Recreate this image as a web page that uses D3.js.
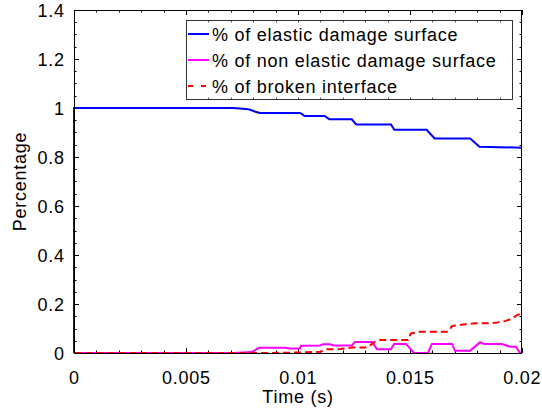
<!DOCTYPE html>
<html><head><meta charset="utf-8">
<script src="https://cdn.jsdelivr.net/npm/d3@7"></script>
<style>
body{margin:0;background:#fff;}
text{font-family:"Liberation Sans",Arial,Helvetica,sans-serif;}
</style></head>
<body>
<svg id="chart" width="542" height="411"></svg>
<script>
// ---- data ----
const xTicks = [0, 0.005, 0.01, 0.015, 0.02];
const xTickLabels = ["0", "0.005", "0.01", "0.015", "0.02"];
const yTicks = [0, 0.2, 0.4, 0.6, 0.8, 1, 1.2, 1.4];
const yTickLabels = ["0", "0.2", "0.4", "0.6", "0.8", "1", "1.2", "1.4"];
const seriesNames = ["% of elastic damage surface", "% of non elastic damage surface", "% of broken interface"];

const elasticT = [0, 0, 0.0071, 0.0078, 0.0081, 0.0083, 0.0101, 0.0103, 0.0112, 0.0114, 0.0124, 0.0126, 0.01415, 0.0143, 0.01575, 0.0158, 0.0161, 0.01768, 0.0178, 0.0181, 0.02];
const elasticV = [0, 1, 1, 0.995, 0.985, 0.98, 0.98, 0.967, 0.967, 0.954, 0.954, 0.933, 0.933, 0.911, 0.911, 0.905, 0.876, 0.876, 0.866, 0.842, 0.838];

const nonElasticT = [0, 0.0071, 0.00793, 0.00827, 0.00942, 0.00964, 0.01009, 0.01013, 0.01098, 0.01112, 0.01143, 0.0116, 0.01241, 0.01254, 0.0133, 0.01353, 0.01415, 0.01429, 0.01482, 0.01518, 0.0158, 0.01598, 0.01688, 0.01701, 0.01768, 0.0179, 0.01813, 0.0183, 0.0191, 0.01946, 0.01973, 0.0199, 0.02];
const nonElasticV = [0, 0, 0.004, 0.021, 0.021, 0.018, 0.018, 0.03, 0.031, 0.036, 0.036, 0.031, 0.031, 0.045, 0.045, 0.015, 0.015, 0.037, 0.037, 0, 0, 0.037, 0.037, 0.009, 0.009, 0.026, 0.044, 0.037, 0.037, 0.026, 0.026, 0.002, 0];

const brokenT = [0, 0.00875, 0.0101, 0.011, 0.0113, 0.01188, 0.01241, 0.01308, 0.01344, 0.01366, 0.01491, 0.01504, 0.01545, 0.0167, 0.01688, 0.01746, 0.0179, 0.01857, 0.01893, 0.01924, 0.01955, 0.01978, 0.02];
const brokenV = [0, 0, 0.002, 0.005, 0.015, 0.016, 0.022, 0.022, 0.046, 0.053, 0.053, 0.08, 0.087, 0.087, 0.11, 0.117, 0.121, 0.121, 0.125, 0.13, 0.14, 0.155, 0.162];

// ---- layout ----
const svg = d3.select("#chart");
const L = 74, R = 522, T = 10, B = 353;
const x = d3.scaleLinear().domain([0, 0.02]).range([L, R]);
const y = d3.scaleLinear().domain([0, 1.4]).range([B, T]);
const fontSize = 18, ls = 0.75;

// minor ticks
const xMinorAll = d3.range(0, 21).map(i => i * 0.001);
const xMinor = xMinorAll.filter(v => !xTicks.some(t => Math.abs(t - v) < 1e-9));
const yMinor = d3.range(0, 29).map(i => i * 0.05).filter(v => !yTicks.some(t => Math.abs(t - v) < 1e-9));

const g = svg.append("g");
g.append("rect").attr("x", L).attr("y", T).attr("width", R - L).attr("height", B - T)
  .attr("fill", "#fff").attr("stroke", "none");

const tickG = g.append("g").attr("stroke", "#000").attr("stroke-width", 1);
const maj = 5, mnr = 2.5;
xTicks.forEach(v => {
  const px = Math.round(x(v)) + 0.5;
  tickG.append("line").attr("x1", px).attr("x2", px).attr("y1", B).attr("y2", B - maj);
  tickG.append("line").attr("x1", px).attr("x2", px).attr("y1", T).attr("y2", T + maj);
});
xMinor.forEach(v => {
  const px = Math.round(x(v)) + 0.5;
  tickG.append("line").attr("x1", px).attr("x2", px).attr("y1", B).attr("y2", B - mnr);
  tickG.append("line").attr("x1", px).attr("x2", px).attr("y1", T).attr("y2", T + mnr);
});
yTicks.forEach(v => {
  const py = Math.round(y(v)) + 0.5;
  tickG.append("line").attr("x1", L).attr("x2", L + maj).attr("y1", py).attr("y2", py);
  tickG.append("line").attr("x1", R).attr("x2", R - maj).attr("y1", py).attr("y2", py);
});
yMinor.forEach(v => {
  const py = Math.round(y(v)) + 0.5;
  tickG.append("line").attr("x1", L).attr("x2", L + mnr).attr("y1", py).attr("y2", py);
  tickG.append("line").attr("x1", R).attr("x2", R - mnr).attr("y1", py).attr("y2", py);
});

// tick labels
const lab = g.append("g").attr("font-size", fontSize).attr("fill", "#000").style("letter-spacing", ls + "px");
xTicks.forEach((v, i) => {
  lab.append("text").attr("x", x(v) + ls / 2).attr("y", 384).attr("text-anchor", "middle").text(xTickLabels[i]);
});
yTicks.forEach((v, i) => {
  lab.append("text").attr("x", 64 + ls).attr("y", y(v) + 6.5).attr("text-anchor", "end").text(yTickLabels[i]);
});
// axis titles
lab.append("text").attr("x", x(0.01)).attr("y", 403).attr("text-anchor", "middle").text("Time (s)");
lab.append("text").attr("transform", `translate(26,${(T + B) / 2}) rotate(-90)`).attr("text-anchor", "middle").text("Percentage");

// lines
const line = d3.line().x(d => x(d[0])).y(d => y(d[1]));
const plot = g.append("g");
const zip = (a, b) => a.map((t, i) => [t, b[i]]);
plot.append("path").datum(zip(elasticT, elasticV)).attr("d", line)
  .attr("fill", "none").attr("stroke", "#0000ff").attr("stroke-width", 2);
plot.append("path").datum(zip(nonElasticT, nonElasticV)).attr("d", line)
  .attr("fill", "none").attr("stroke", "#ff00ff").attr("stroke-width", 2);
plot.append("path").datum(zip(brokenT, brokenV)).attr("d", line)
  .attr("fill", "none").attr("stroke", "#ff0000").attr("stroke-width", 2).attr("stroke-dasharray", "7,4");

// frame
g.append("rect").attr("x", L + 0.5).attr("y", T + 0.5).attr("width", R - L - 1).attr("height", B - T)
  .attr("fill", "none").attr("stroke", "#000").attr("stroke-width", 1);

// legend
const lx0 = 186, ly0 = 20, lx1 = 512, ly1 = 99;
const leg = svg.append("g");
leg.append("rect").attr("x", lx0 + 0.5).attr("y", ly0 + 0.5).attr("width", lx1 - lx0).attr("height", ly1 - ly0)
  .attr("fill", "#fff").attr("stroke", "#333").attr("stroke-width", 1);
// faint tick marks along the legend box edges (as in the reference)
xMinorAll.filter(v => x(v) > lx0 + 4 && x(v) < lx1 - 2).forEach(v => {
  const px = Math.round(x(v)) + 0.5;
  leg.append("line").attr("x1", px).attr("x2", px).attr("y1", ly0 + 0.5).attr("y2", ly0 + 2.5).attr("stroke", "#555");
  leg.append("line").attr("x1", px).attr("x2", px).attr("y1", ly1 + 0.5).attr("y2", ly1 - 1.5).attr("stroke", "#555");
});
const legColors = ["#0000ff", "#ff00ff", "#ff0000"];
const legDash = [null, null, "5,8"];
const rowY = [34, 60, 86];
seriesNames.forEach((n, i) => {
  leg.append("line").attr("x1", 188).attr("x2", 209).attr("y1", rowY[i]).attr("y2", rowY[i])
    .attr("stroke", legColors[i]).attr("stroke-width", 2).attr("stroke-dasharray", legDash[i]);
  leg.append("text").attr("x", 212).attr("y", rowY[i] + 6.5).attr("font-size", fontSize)
    .style("letter-spacing", ls + "px").text(n);
});
</script>
</body></html>
